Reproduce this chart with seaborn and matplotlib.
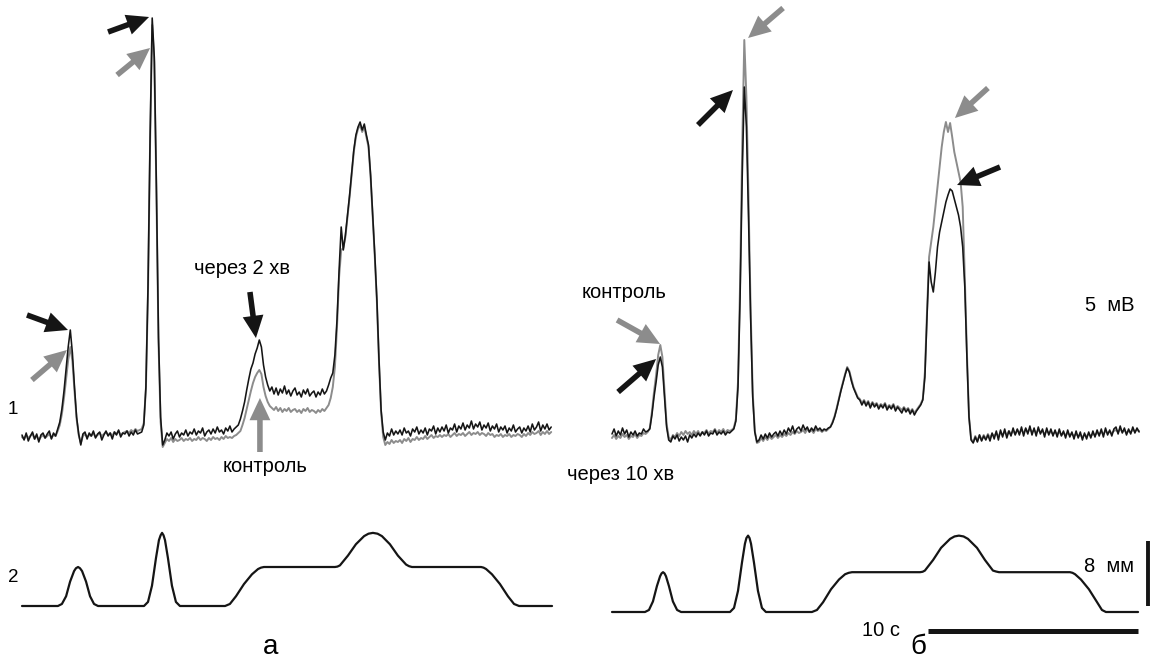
import numpy as np
import matplotlib
matplotlib.use("Agg")
import matplotlib.pyplot as plt
import seaborn as sns

sns.set_theme(style="white")
plt.rcParams['font.family'] = ['Liberation Sans', 'DejaVu Sans']

# ---------------- data ----------------
DT = 0.1  # s, sampling step of the recordings

# trace 1 (mV above baseline), panel a: black = "через 2 хв", grey = "контроль"
a_black = [
    0.2, -0.3, 0.4, -0.4, 0.1, 0.5, -0.2, 0.3, -0.5, 0.2,
    0.4, -0.1, 0.3, 0.6, -0.2, 0.4, 0.1, 0.8, 1.5, 2.8,
    4.6, 6.8, 9.0, 10.7, 8.4, 5.0, 2.0, 0.3, -0.8, 0.3,
    0.5, -0.2, 0.4, 0.1, 0.6, -0.1, 0.3, 0.5, -0.3, 0.2,
    0.6, 0.1, 0.4, -0.2, 0.5, 0.2, 0.7, 0.0, 0.4, 0.3,
    0.6, 0.1, 0.5, 0.2, 0.7, 0.3, 0.4, 0.5, 1.2, 5.0,
    15.0, 30.0, 41.9, 38.0, 25.0, 10.0, 2.0, -0.8, -0.3, 0.4,
    0.1, 0.5, -0.2, 0.3, 0.6, 0.0, 0.4, 0.2, 0.7, 0.1,
    0.5, 0.3, 0.8, 0.2, 0.6, 0.4, 0.9, 0.1, 0.5, 0.7,
    0.3, 0.8, 0.4, 1.0, 0.5, 0.7, 0.3, 0.9, 0.6, 1.1,
    0.5, 0.8, 1.0, 1.2, 1.8, 2.6, 3.5, 4.7, 5.8, 6.8,
    7.4, 8.3, 8.9, 9.7, 9.0, 7.2, 6.0, 5.2, 4.6, 5.0,
    4.3, 4.9, 4.2, 4.8, 4.4, 5.1, 4.3, 4.7, 4.1, 4.6,
    4.9, 4.2, 4.5, 4.0, 4.7, 4.3, 4.8, 4.1, 4.4, 4.6,
    4.0, 4.5, 4.2, 4.8, 4.3, 4.6, 5.2, 5.9, 6.4, 8.2,
    11.7, 16.7, 21.0, 18.7, 20.2, 22.2, 24.2, 26.5, 28.7, 30.2,
    31.0, 31.5, 30.7, 31.3, 30.2, 29.2, 26.2, 22.2, 18.2, 13.7,
    7.7, 2.7, 0.5, -0.3, 0.4, 0.1, 0.8, 0.2, 0.6, 0.3,
    0.7, 0.2, 0.9, 0.4, 0.6, 0.1, 0.8, 0.5, 1.0, 0.3,
    0.7, 0.4, 0.9, 0.2, 0.8, 0.6, 1.1, 0.3, 0.9, 0.5,
    1.0, 0.6, 1.2, 0.4, 0.9, 0.7, 1.3, 0.5, 1.1, 0.8,
    1.4, 0.7, 1.2, 0.9, 1.6, 0.8, 1.3, 1.0, 1.5, 0.7,
    1.2, 0.9, 1.4, 0.6, 1.1, 0.8, 1.3, 0.5, 1.0, 0.7,
    1.1, 0.4, 0.9, 0.6, 1.2, 0.5, 0.8, 1.0, 0.4, 0.9,
    0.6, 1.1, 0.5, 1.3, 0.7, 1.0, 1.5, 0.6, 1.2, 0.8,
    1.3, 0.7, 1.0,
]
a_grey = [
    0.0, -0.2, 0.2, -0.1, 0.1, 0.3, -0.2, 0.1, -0.3, 0.0,
    0.2, -0.1, 0.1, 0.3, -0.1, 0.2, 0.1, 0.6, 1.2, 2.3,
    3.9, 5.8, 7.7, 9.0, 7.6, 4.6, 1.8, 0.2, -0.6, 0.1,
    0.3, 0.0, 0.2, 0.1, 0.4, 0.0, 0.2, 0.4, 0.1, 0.3,
    0.5, 0.2, 0.4, 0.1, 0.5, 0.3, 0.6, 0.2, 0.4, 0.5,
    0.6, 0.4, 0.7, 0.5, 0.8, 0.6, 0.7, 0.8, 1.4, 4.8,
    14.5, 29.5, 41.2, 37.5, 24.5, 9.5, 1.5, -1.0, -0.6, -0.2,
    -0.4, -0.1, -0.5, -0.2, -0.4, -0.3, -0.1, -0.4, -0.2, -0.3,
    -0.1, -0.4, -0.2, -0.3, 0.0, -0.3, -0.1, -0.2, -0.4, -0.1,
    -0.3, 0.0, -0.2, -0.1, -0.3, 0.0, -0.2, 0.1, -0.1, 0.0,
    -0.1, 0.1, 0.2, 0.4, 0.6, 1.2, 1.9, 2.8, 3.7, 4.6,
    5.4, 6.0, 6.4, 6.7, 6.3, 5.0, 4.1, 3.5, 3.1, 2.9,
    2.7, 3.0, 2.6, 2.9, 2.5, 2.8, 2.6, 2.9, 2.5, 2.7,
    2.8, 2.5, 2.7, 2.4, 2.8, 2.6, 2.9, 2.5, 2.7, 2.6,
    2.4, 2.7, 2.5, 2.8, 2.6, 2.9, 3.2, 3.9, 5.0, 7.0,
    11.0, 16.0, 18.7, 18.9, 20.0, 22.0, 24.0, 26.3, 28.5, 30.0,
    30.8, 31.2, 30.5, 31.0, 30.0, 29.0, 26.0, 22.0, 18.0, 13.5,
    7.5, 2.5, 0.0, -0.8, -0.5, -0.7, -0.3, -0.6, -0.4, -0.5,
    -0.3, -0.6, -0.2, -0.4, -0.1, -0.5, -0.2, -0.3, 0.0, -0.3,
    -0.1, -0.2, 0.1, -0.2, 0.0, 0.2, -0.1, 0.1, 0.0, 0.2,
    0.0, 0.2, 0.1, 0.3, 0.0, 0.2, 0.4, 0.1, 0.3, 0.2,
    0.4, 0.1, 0.3, 0.5, 0.2, 0.4, 0.3, 0.5, 0.2, 0.4,
    0.3, 0.1, 0.4, 0.2, 0.3, 0.0, 0.2, 0.1, 0.3, 0.0,
    0.2, 0.1, 0.3, 0.0, 0.2, 0.1, 0.3, 0.2, 0.0, 0.3,
    0.1, 0.4, 0.2, 0.5, 0.3, 0.4, 0.6, 0.2, 0.5, 0.3,
    0.6, 0.3, 0.5,
]

# trace 1, panel б: black = "через 10 хв", grey = "контроль"
b_black = [
    0.3, 0.8, 0.1, 0.6, 0.2, 0.9, 0.3, 0.7, 0.0, 0.5,
    0.2, 0.6, 0.1, 0.4, 0.3, 0.8, 0.5, 0.6, 0.8, 2.2,
    4.0, 5.5, 7.2, 8.0, 7.0, 4.0, 1.0, -0.3, -0.5, 0.1,
    -0.2, 0.2, -0.4, 0.0, -0.3, 0.1, -0.5, 0.2, -0.1, 0.3,
    0.0, 0.4, 0.1, 0.5, 0.2, 0.6, 0.1, 0.4, 0.3, 0.7,
    0.2, 0.5, 0.3, 0.6, 0.2, 0.5, 0.4, 0.6, 0.8, 1.6,
    5.0, 14.0, 26.0, 35.0, 31.0, 22.0, 12.0, 4.0, 0.5, -0.5,
    -0.3, 0.2, -0.2, 0.3, -0.1, 0.4, 0.0, 0.3, 0.5, 0.1,
    0.6, 0.2, 0.7, 0.3, 0.9, 0.5, 1.1, 0.4, 0.8, 1.0,
    0.6, 1.2, 0.7, 1.0, 0.5, 0.9, 0.6, 1.1, 0.7, 0.9,
    0.6, 0.8, 0.7, 0.9, 1.0, 1.4, 2.0, 2.8, 3.7, 4.6,
    5.4, 6.2, 6.9, 6.5, 5.6, 4.9, 4.4, 3.9, 3.7, 3.2,
    3.6, 3.1, 3.5, 2.9, 3.4, 3.0, 3.3, 2.8, 3.2, 2.9,
    3.3, 2.7, 3.1, 2.8, 3.2, 2.6, 3.0, 2.7, 2.4, 2.9,
    2.5, 2.8, 2.3, 2.7, 2.2, 2.6, 2.9, 3.2, 3.7, 6.0,
    12.0, 17.5, 15.5, 14.5, 16.5, 19.0, 20.5, 21.5, 22.5, 23.5,
    24.2, 24.8, 24.6, 23.8, 23.0, 22.2, 21.0, 19.0, 15.0, 8.0,
    2.0, -0.3, -0.6, 0.0, -0.5, 0.2, -0.4, 0.1, -0.3, 0.2,
    -0.4, 0.4, -0.2, 0.6, -0.3, 0.7, 0.0, 0.8, -0.1, 0.6,
    0.1, 0.9, 0.2, 0.8, 0.2, 1.0, 0.1, 0.9, 0.3, 1.1,
    0.2, 0.9, 0.1, 1.0, 0.3, 0.8, 0.0, 0.9, 0.2, 0.8,
    0.1, 0.7, 0.0, 0.8, 0.1, 0.6, -0.1, 0.7, 0.0, 0.5,
    -0.2, 0.6, -0.1, 0.5, -0.3, 0.4, -0.2, 0.5, -0.1, 0.6,
    0.0, 0.7, 0.1, 0.8, 0.0, 0.9, 0.2, 0.7, 0.1, 0.8,
    1.0, 0.3, 1.1, 0.4, 0.9, 0.2, 0.8, 0.3, 1.0, 0.4,
    0.9, 0.5,
]
b_grey = [
    -0.1, 0.2, -0.2, 0.1, -0.1, 0.3, 0.0, 0.2, -0.2, 0.1,
    0.0, 0.3, -0.1, 0.2, 0.1, 0.4, 0.3, 0.5, 0.9, 2.5,
    4.5, 6.2, 8.2, 9.2, 8.0, 4.6, 1.3, 0.0, -0.3, 0.2,
    0.0, 0.4, 0.1, 0.5, 0.2, 0.6, 0.3, 0.5, 0.2, 0.6,
    0.3, 0.6, 0.2, 0.5, 0.4, 0.7, 0.3, 0.6, 0.5, 0.8,
    0.4, 0.7, 0.5, 0.8, 0.4, 0.7, 0.6, 0.7, 0.9, 1.8,
    5.5, 15.5, 29.0, 39.7, 34.0, 24.0, 13.0, 4.5, 0.6, -0.6,
    -0.5, -0.1, -0.4, 0.0, -0.3, 0.1, -0.2, 0.0, 0.2, -0.1,
    0.2, 0.0, 0.3, 0.1, 0.4, 0.2, 0.5, 0.3, 0.6, 0.4,
    0.5, 0.7, 0.4, 0.8, 0.5, 0.7, 0.4, 0.8, 0.6, 0.7,
    0.5, 0.7, 0.6, 0.8, 1.0, 1.5, 2.1, 2.9, 3.8, 4.7,
    5.5, 6.3, 7.0, 6.6, 5.8, 5.0, 4.5, 4.0, 3.8, 3.4,
    3.7, 3.3, 3.6, 3.1, 3.5, 3.2, 3.4, 3.0, 3.3, 3.1,
    3.4, 2.9, 3.2, 3.0, 3.3, 2.8, 3.1, 2.9, 2.7, 3.0,
    2.7, 2.9, 2.5, 2.8, 2.4, 2.7, 3.0, 3.3, 3.8, 6.5,
    12.5, 18.0, 19.5, 21.0, 23.0, 25.0, 27.0, 29.0, 30.5, 31.5,
    30.5, 31.4, 30.0, 28.5, 27.5, 26.5, 25.5, 23.0, 16.0, 8.5,
    2.0, -0.2, -0.5, 0.1, -0.4, 0.2, -0.3, 0.2, -0.2, 0.3,
    -0.1, 0.3, 0.1, 0.4, 0.0, 0.5, 0.2, 0.5, 0.2, 0.6,
    0.3, 0.6, 0.3, 0.7, 0.4, 0.7, 0.4, 0.8, 0.5, 0.8,
    0.5, 0.7, 0.4, 0.7, 0.5, 0.6, 0.3, 0.6, 0.4, 0.5,
    0.3, 0.5, 0.3, 0.5, 0.2, 0.4, 0.2, 0.4, 0.2, 0.3,
    0.1, 0.3, 0.1, 0.2, 0.0, 0.2, 0.1, 0.3, 0.1, 0.3,
    0.2, 0.4, 0.3, 0.5, 0.3, 0.6, 0.4, 0.5, 0.4, 0.6,
    0.7, 0.5, 0.8, 0.5, 0.7, 0.4, 0.6, 0.5, 0.7, 0.6,
    0.7, 0.6,
]

# trace 2 (mm), key points (s, mm)
a2_t = [0.00, 1.71, 1.90, 2.10, 2.29, 2.48, 2.57, 2.67, 2.76, 2.86, 3.05, 3.24, 3.43, 3.62,
        5.81, 6.00, 6.19, 6.38, 6.52, 6.60, 6.67, 6.74, 6.81, 6.95, 7.14, 7.33, 7.52,
        9.67, 9.90, 10.19, 10.57, 10.95, 11.24, 11.38, 11.52, 14.90,
        15.02, 15.14, 15.52, 15.90, 16.29, 16.50, 16.71, 16.93, 17.14, 17.52, 17.90,
        18.29, 18.43, 18.57, 21.86,
        21.98, 22.10, 22.38, 22.76, 23.14, 23.43, 23.67, 25.24]
a2_mm = [0.0, 0.0, 0.25, 1.2, 3.0, 4.3, 4.65, 4.8, 4.65, 4.3, 3.0, 1.2, 0.25, 0.0,
         0.0, 0.5, 2.5, 5.9, 8.1, 8.7, 9.0, 8.7, 8.1, 5.9, 2.5, 0.5, 0.0,
         0.0, 0.25, 1.2, 2.7, 3.9, 4.55, 4.72, 4.8, 4.8,
         4.85, 5.0, 6.2, 7.6, 8.6, 8.9, 9.0, 8.9, 8.6, 7.6, 6.2,
         5.1, 4.9, 4.8, 4.8,
         4.72, 4.55, 3.9, 2.7, 1.2, 0.25, 0.0, 0.0]
b2_t = [0.00, 1.57, 1.76, 1.95, 2.14, 2.29, 2.36, 2.43, 2.50, 2.57, 2.71, 2.90, 3.10, 3.29,
        5.62, 5.81, 6.00, 6.19, 6.33, 6.40, 6.48, 6.55, 6.62, 6.76, 6.95, 7.14, 7.33,
        9.52, 9.76, 10.05, 10.43, 10.81, 11.10, 11.27, 11.43, 14.67,
        14.79, 14.90, 15.29, 15.67, 16.10, 16.31, 16.52, 16.74, 16.95, 17.38, 17.76,
        18.14, 18.29, 18.43, 21.81,
        21.93, 22.05, 22.33, 22.71, 23.10, 23.33, 23.52, 25.05]
b2_mm = [0.0, 0.0, 0.25, 1.3, 3.2, 4.4, 4.75, 4.9, 4.75, 4.4, 3.2, 1.3, 0.25, 0.0,
         0.0, 0.5, 2.6, 6.1, 8.4, 9.1, 9.4, 9.1, 8.4, 6.1, 2.6, 0.5, 0.0,
         0.0, 0.25, 1.2, 2.8, 4.0, 4.65, 4.82, 4.9, 4.9,
         4.95, 5.1, 6.4, 7.9, 9.0, 9.3, 9.4, 9.3, 9.0, 7.9, 6.4,
         5.1, 4.98, 4.9, 4.9,
         4.82, 4.65, 4.0, 2.8, 1.2, 0.25, 0.0, 0.0]

SCALE_MM = 8
SCALE_S = 10

BLACK = "#151515"
GREY = "#8c8c8c"

# ---------------- figure ----------------
W, H = 1151, 666
fig = plt.figure(figsize=(W / 100, H / 100), dpi=100)
fig.patch.set_facecolor("white")


def panel_axes(x0, y0, xs, ys):
    """Axes over the whole figure; data origin at pixel (x0, y0 from top)."""
    ax = fig.add_axes([0, 0, 1, 1])
    ax.set_facecolor("none")
    return ax, (-x0 / xs, (W - x0) / xs), (-(H - y0) / ys, y0 / ys)


PX_S = 21.0      # px per second
PX_MV = 10.0     # px per mV
PX_MM = 8.125    # px per mm

ax_a1, xa1, ya1 = panel_axes(22, 437, PX_S, PX_MV)
ax_b1, xb1, yb1 = panel_axes(612, 437, PX_S, PX_MV)
ax_a2, xa2, ya2 = panel_axes(22, 606, PX_S, PX_MM)
ax_b2, xb2, yb2 = panel_axes(612, 612, PX_S, PX_MM)


def trace(ax, vals, color, lw):
    t = np.arange(len(vals)) * DT
    sns.lineplot(x=t, y=np.asarray(vals), ax=ax, color=color, linewidth=lw,
                 estimator=None, sort=False, legend=False)


trace(ax_a1, a_grey, GREY, 1.4)
trace(ax_a1, a_black, BLACK, 1.15)
trace(ax_b1, b_grey, GREY, 1.4)
trace(ax_b1, b_black, BLACK, 1.15)

for ax, tt, mm in ((ax_a2, a2_t, a2_mm), (ax_b2, b2_t, b2_mm)):
    sns.lineplot(x=tt, y=mm, ax=ax, color=BLACK, linewidth=1.6,
                 estimator=None, sort=False, legend=False)
    for ln in ax.get_lines():
        ln.set_solid_joinstyle("round")

# scale bars (panel б)
bar_t = 25.52
ax_b2.plot([bar_t, bar_t], [0.74, 0.74 + SCALE_MM], color=BLACK, lw=2.8,
           solid_capstyle="butt")
bar_end = b2_t[-1]
ax_b2.plot([bar_end - SCALE_S, bar_end], [-2.34, -2.34], color=BLACK, lw=3.6,
           solid_capstyle="butt")

# arrows: (t, mV tip, tail dx px, tail dy px, colour)
arrows_a = [
    (2.19, 10.7, -41, 15, BLACK),
    (2.14, 8.7, -35, -30, GREY),
    (6.05, 42.0, -41, -15, BLACK),
    (6.10, 38.9, -33, -27, GREY),
    (11.14, 9.9, -6, 46, BLACK),
    (11.33, 3.9, 0, -54, GREY),
]
arrows_b = [
    (2.29, 9.3, -43, 24, GREY),
    (2.10, 7.8, -38, -33, BLACK),
    (6.48, 39.9, 35, 30, GREY),
    (5.76, 34.7, -35, -35, BLACK),
    (16.33, 31.9, 33, 30, GREY),
    (16.43, 25.2, 43, 18, BLACK),
]
style = "simple,head_length=16,head_width=15,tail_width=4"
for ax, arrs in ((ax_a1, arrows_a), (ax_b1, arrows_b)):
    for t, v, dx, dy, c in arrs:
        ax.annotate("", xy=(t, v), xytext=(dx, dy), textcoords="offset pixels",
                    arrowprops=dict(arrowstyle=style, color=c, lw=0,
                                    shrinkA=0, shrinkB=0, mutation_scale=1))

for ax, xl, yl in ((ax_a1, xa1, ya1), (ax_b1, xb1, yb1),
                   (ax_a2, xa2, ya2), (ax_b2, xb2, yb2)):
    ax.set_xlim(*xl)
    ax.set_ylim(*yl)
    ax.set_axis_off()


def ftext(x, y, s, size=14.5, ha="center", va="center"):
    fig.text(x / W, 1 - y / H, s, fontsize=size, ha=ha, va=va, color="black")


ftext(242, 268, "через 2 хв")
ftext(265, 467, "контроль")
ftext(624, 292, "контроль")
ftext(621, 474, "через 10 хв")
ftext(1085, 305, "5  мВ", ha="left")
ftext(1084, 566, "8  мм", ha="left")
ftext(900, 630, "10 с", ha="right")
ftext(13, 410, "1", size=13.5)
ftext(13, 578, "2", size=13.5)
ftext(271, 647, "а", size=20)
ftext(918, 647, "б", size=20)

fig.savefig("out.png", dpi=100, facecolor="white")
